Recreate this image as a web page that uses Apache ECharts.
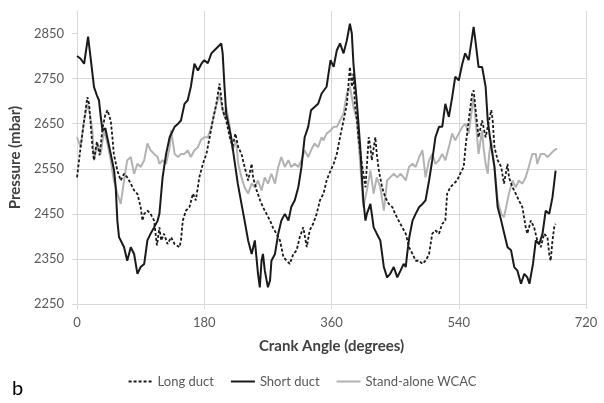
<!DOCTYPE html>
<html>
<head>
<meta charset="utf-8">
<script src="https://cdn.jsdelivr.net/npm/echarts@6/dist/echarts.min.js"></script>
<style>
  html, body { margin: 0; padding: 0; background: #fff; }
  #chart { width: 604px; height: 403px; }
</style>
</head>
<body>
<div id="chart"></div>
<script>
// crank angle (deg) and pressure (mbar)
var longAngle = [0, 5, 10, 14.6, 17, 19, 21.7, 24, 28, 32, 36, 40, 43, 47.6, 50, 52, 57, 61.8, 66.5, 71, 76, 80.7, 85.4, 90, 92.5, 95, 99.5, 104, 109, 113, 116.5, 119, 123, 128, 133, 138, 145, 147, 149.6, 154, 159, 164, 168, 173, 178, 183, 187.6, 192, 197, 201.5, 204, 206, 211, 216, 220, 224, 228, 232.6, 237, 242, 247, 249, 254, 259, 263, 268, 273, 277, 282, 287, 292, 296.6, 301, 306, 310.6, 315, 320, 325, 329, 334, 339, 343.6, 348.7, 353, 358.6, 363, 367.5, 372, 377, 381.7, 386, 388.7, 391, 393, 396, 398, 403, 408, 412.6, 415, 417, 422, 424, 427, 431.5, 436, 441, 446, 450, 455, 460, 465, 469.6, 474.6, 479, 484, 488.7, 493, 498, 502.5, 507, 512, 516.6, 521, 523.6, 528, 533, 537.6, 542, 547, 549.5, 554, 559, 561, 563.5, 568, 573, 578, 581, 586, 588, 590.5, 595, 600, 604, 609, 611, 616, 620.6, 625, 630, 634.7, 637, 642, 646.6, 651, 656, 660.8, 665.5, 668, 670, 672.6, 675, 677];
var longP = [2531, 2598, 2657, 2709, 2694, 2657, 2598, 2569, 2610, 2580, 2640, 2670, 2680, 2657, 2620, 2583, 2546, 2524, 2539, 2531, 2517, 2502, 2494, 2465, 2435, 2450, 2457, 2450, 2435, 2380, 2420, 2391, 2406, 2383, 2398, 2383, 2376, 2391, 2435, 2457, 2465, 2495, 2480, 2531, 2561, 2583, 2620, 2657, 2694, 2739, 2709, 2680, 2657, 2620, 2600, 2628, 2598, 2583, 2554, 2524, 2561, 2531, 2502, 2480, 2465, 2450, 2435, 2420, 2406, 2391, 2354, 2346, 2339, 2361, 2369, 2398, 2420, 2376, 2413, 2428, 2450, 2480, 2495, 2524, 2546, 2561, 2583, 2620, 2657, 2694, 2776, 2732, 2761, 2694, 2657, 2620, 2561, 2509, 2620, 2598, 2569, 2620, 2583, 2546, 2509, 2487, 2472, 2465, 2450, 2435, 2420, 2406, 2376, 2361, 2346, 2346, 2339, 2346, 2361, 2406, 2413, 2406, 2428, 2435, 2495, 2509, 2517, 2524, 2539, 2554, 2598, 2657, 2717, 2724, 2687, 2620, 2657, 2620, 2643, 2680, 2657, 2598, 2569, 2554, 2517, 2561, 2531, 2509, 2495, 2480, 2465, 2420, 2406, 2435, 2420, 2391, 2376, 2406, 2398, 2361, 2346, 2391, 2420, 2428];

var shortAngle = [0, 5, 10, 15.6, 19, 24, 28, 31, 33.5, 36, 40, 44, 47.6, 52.4, 54.7, 57, 59.4, 61.8, 66.5, 71, 76, 80.7, 85.4, 90, 95, 99.5, 104, 109, 114, 116.5, 121, 126, 131, 138, 143, 147, 152, 156.5, 161, 166, 171, 176, 180, 185, 190, 194.4, 199, 204, 206, 208.6, 211, 213, 218, 222.6, 227.4, 232.6, 237, 242, 247, 251.5, 256, 258.5, 261, 263, 265.6, 270, 273, 275, 280, 284.6, 289, 294, 299, 303, 308, 313, 317.5, 322, 327, 331, 336, 341, 346, 353, 358.6, 363, 367.5, 372, 377, 381.7, 386, 388.7, 391, 396, 400.6, 403, 405, 408, 410, 415, 419.6, 424, 429, 434, 438.6, 443, 448, 453, 457.6, 462, 465, 467, 470, 474.6, 479, 484, 488.7, 493, 498, 502.5, 507, 512, 516.6, 521, 526, 530.7, 535, 540, 545, 549, 554, 559, 561, 563.5, 568, 573, 578, 581, 586, 590.5, 595, 600, 604.4, 609, 614, 618.5, 623, 628, 632.7, 637, 640, 645, 649, 653.8, 658.5, 663, 668, 672.6, 677];
var shortP = [2800, 2794, 2783, 2843, 2798, 2731, 2713, 2702, 2665, 2635, 2640, 2610, 2583, 2546, 2509, 2435, 2398, 2391, 2376, 2346, 2376, 2361, 2317, 2332, 2339, 2391, 2406, 2420, 2435, 2450, 2531, 2583, 2620, 2643, 2650, 2657, 2694, 2702, 2732, 2783, 2768, 2783, 2791, 2784, 2806, 2813, 2820, 2828, 2806, 2732, 2672, 2657, 2620, 2569, 2517, 2472, 2435, 2391, 2361, 2391, 2317, 2287, 2346, 2361, 2324, 2287, 2302, 2346, 2361, 2406, 2435, 2450, 2435, 2465, 2480, 2509, 2554, 2620, 2643, 2680, 2687, 2694, 2717, 2732, 2791, 2776, 2813, 2828, 2806, 2835, 2872, 2850, 2783, 2694, 2598, 2531, 2480, 2435, 2450, 2472, 2420, 2406, 2391, 2332, 2309, 2317, 2332, 2309, 2324, 2339, 2332, 2361, 2398, 2435, 2450, 2465, 2472, 2480, 2524, 2569, 2620, 2643, 2643, 2694, 2665, 2709, 2754, 2746, 2783, 2806, 2791, 2843, 2865, 2835, 2776, 2776, 2732, 2657, 2598, 2554, 2465, 2435, 2406, 2376, 2369, 2332, 2324, 2295, 2317, 2309, 2295, 2339, 2391, 2383, 2406, 2457, 2450, 2487, 2546];

var wcacAngle = [0, 5, 10, 14.6, 17, 21.7, 24, 28.8, 33.5, 38, 43, 47.6, 52, 57, 61.8, 66.5, 71, 76, 80.7, 85.4, 90, 95, 99.5, 104, 109, 114, 116.5, 121, 126, 131, 133, 138, 143, 147, 152, 156.5, 161, 166, 171, 175, 180, 185, 190, 194, 199, 201.5, 204, 208.6, 211, 216, 220, 225, 228, 232.6, 237, 242, 247, 251.5, 256, 261, 265.6, 270, 275, 280, 284.6, 289, 294, 299, 303, 308, 313, 317.5, 322, 327, 331, 336, 341, 346, 348.7, 353, 358.6, 363, 367.5, 372, 377, 381.7, 386, 388.7, 391, 396, 400.6, 405, 410, 415, 419.6, 424, 429, 434, 438.6, 443, 448, 453, 457.6, 462, 465, 469.6, 474.6, 479, 484, 488.7, 493, 498, 502.5, 507, 512, 516.6, 521, 526, 530.7, 535, 540, 545, 549.5, 554, 559, 561, 563.5, 568, 573, 575, 578, 581, 583, 586, 590.5, 595, 600, 604, 607, 611, 616, 620.6, 625, 630, 634.7, 639, 644, 649, 651, 656, 661, 665.5, 670, 675, 679];
var wcacP = [2620, 2598, 2657, 2694, 2680, 2635, 2569, 2606, 2583, 2635, 2606, 2569, 2524, 2495, 2472, 2524, 2569, 2576, 2539, 2561, 2554, 2569, 2606, 2591, 2583, 2576, 2561, 2569, 2561, 2598, 2635, 2583, 2576, 2583, 2583, 2591, 2576, 2591, 2598, 2613, 2620, 2620, 2643, 2672, 2702, 2717, 2694, 2665, 2687, 2643, 2591, 2613, 2561, 2531, 2509, 2495, 2517, 2509, 2524, 2502, 2531, 2517, 2539, 2517, 2554, 2576, 2554, 2569, 2554, 2561, 2554, 2569, 2591, 2576, 2591, 2606, 2598, 2620, 2613, 2628, 2635, 2643, 2643, 2657, 2672, 2717, 2732, 2709, 2687, 2657, 2561, 2465, 2502, 2546, 2495, 2531, 2509, 2457, 2524, 2531, 2539, 2531, 2539, 2531, 2524, 2554, 2561, 2554, 2576, 2591, 2531, 2569, 2583, 2561, 2569, 2583, 2569, 2598, 2628, 2613, 2628, 2643, 2650, 2628, 2687, 2709, 2665, 2583, 2635, 2598, 2561, 2539, 2583, 2613, 2554, 2480, 2450, 2443, 2465, 2495, 2524, 2509, 2524, 2517, 2531, 2554, 2583, 2583, 2561, 2583, 2583, 2576, 2583, 2591, 2595];

var xTicks = [0, 180, 360, 540, 720];
var yTicks = [2250, 2350, 2450, 2550, 2650, 2750, 2850];

function pairs(a, p) {
  return a.map(function (v, i) { return [v, p[i]]; });
}

var chart = echarts.init(document.getElementById('chart'));
var gridColor = '#d9d9d9';
var font = 'Lato, "Open Sans", sans-serif';

var option = {
  animation: false,
  textStyle: { fontFamily: font },
  grid: { left: 77, right: 18, top: 11, bottom: 99, containLabel: false },
  legend: {
    left: 'center',
    top: 370,
    itemWidth: 24,
    itemHeight: 10,
    itemGap: 16,
    itemStyle: { opacity: 0 },
    textStyle: { color: '#595959', fontSize: 13, fontFamily: font },
    data: ['Long duct', 'Short duct', 'Stand-alone WCAC']
  },
  xAxis: {
    type: 'value',
    min: 0,
    max: 720,
    interval: 180,
    name: 'Crank Angle (degrees)',
    nameLocation: 'middle',
    nameGap: 35,
    nameTextStyle: { color: '#404040', fontSize: 15, fontWeight: 'bold', fontFamily: font },
    axisLine: { show: true, lineStyle: { color: gridColor } },
    axisTick: { show: true, inside: false, length: 5, lineStyle: { color: gridColor } },
    axisLabel: { color: '#595959', fontSize: 13, margin: 12, customValues: xTicks,
      formatter: function (v) { return String(v); } },
    splitLine: { show: true, lineStyle: { color: gridColor, width: 1 } }
  },
  yAxis: {
    type: 'value',
    min: 2250,
    max: 2900,
    interval: 100,
    name: 'Pressure (mbar)',
    nameLocation: 'middle',
    nameGap: 46,
    nameTextStyle: { color: '#404040', fontSize: 15, fontWeight: 'bold', fontFamily: font },
    axisLine: { show: true, lineStyle: { color: gridColor } },
    axisTick: { show: true, length: 5, lineStyle: { color: gridColor }, customValues: yTicks },
    axisLabel: { color: '#595959', fontSize: 13, margin: 13, customValues: yTicks,
      formatter: function (v) { return String(v); } },
    splitLine: { show: true, showMaxLine: false, lineStyle: { color: gridColor, width: 1 } }
  },
  series: [
    {
      name: 'Long duct',
      type: 'line',
      showSymbol: false,
      symbol: 'none',
      z: 3,
      lineStyle: { color: '#1a1a1a', width: 1.8, type: [3, 2] },
      itemStyle: { color: '#1a1a1a' },
      data: pairs(longAngle, longP)
    },
    {
      name: 'Short duct',
      type: 'line',
      showSymbol: false,
      symbol: 'none',
      z: 4,
      lineStyle: { color: '#1a1a1a', width: 2 },
      itemStyle: { color: '#1a1a1a' },
      data: pairs(shortAngle, shortP)
    },
    {
      name: 'Stand-alone WCAC',
      type: 'line',
      showSymbol: false,
      symbol: 'none',
      z: 2,
      lineStyle: { color: '#b3b3b3', width: 2 },
      itemStyle: { color: '#b3b3b3' },
      data: pairs(wcacAngle, wcacP)
    }
  ],
  graphic: [
    {
      type: 'text',
      left: 12,
      top: 379,
      style: { text: 'b', fill: '#000', font: '20px ' + font }
    }
  ]
};

chart.setOption(option);
</script>
</body>
</html>
